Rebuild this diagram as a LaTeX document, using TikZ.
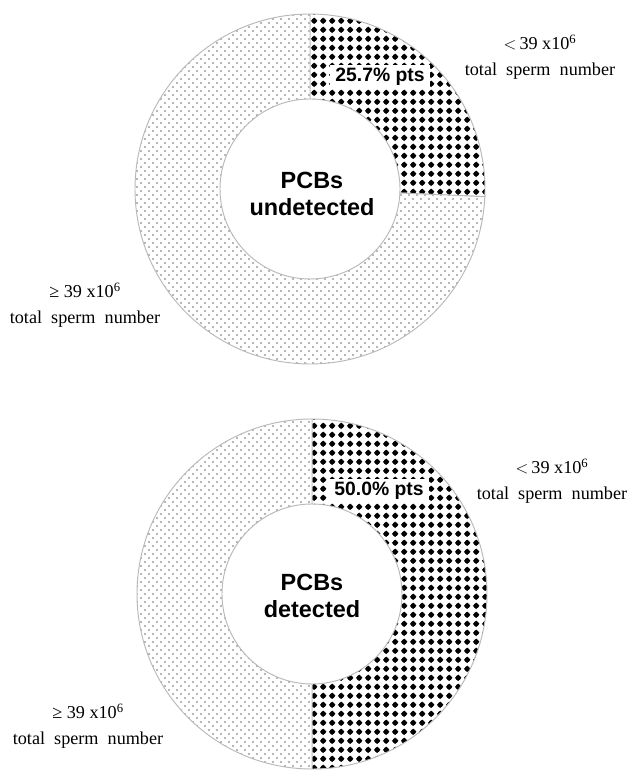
\documentclass[tikz,border=0pt]{standalone}
\usepackage{fontspec}
\setmainfont{Liberation Serif}
\setsansfont{Liberation Sans}
\usetikzlibrary{patterns.meta}

% dark segment: black dots, light segment: grey dots
\tikzdeclarepattern{
  name=darkdots, type=colored,
  bottom left={(0pt,0pt)}, top right={(7.8pt,7.8pt)}, tile size={(7.8pt,7.8pt)},
  code={\fill[white] (0pt,0pt) rectangle (7.8pt,7.8pt);
        \fill[black] (3.9pt,0.9pt) -- (6.9pt,3.9pt) -- (3.9pt,6.9pt) -- (0.9pt,3.9pt) -- cycle;
        \fill[black] (3.9pt,3.9pt) circle (2.4pt);}
}
\tikzdeclarepattern{
  name=greydots, type=colored,
  bottom left={(0pt,0pt)}, top right={(6.8pt,6.8pt)}, tile size={(6.8pt,6.8pt)},
  code={\fill[white] (0pt,0pt) rectangle (6.8pt,6.8pt);
        \fill[gray!75] (1.7pt,1.7pt) circle (0.95pt);
        \fill[gray!75] (5.1pt,5.1pt) circle (0.95pt);}
}

\newcommand{\widewords}{\spaceskip=0.5em\relax}

\tikzset{
  ring edge/.style={draw=gray!55, line width=0.8pt},
  share/.style={font=\fontsize{15.5}{22}\selectfont, align=center},
  inner label/.style={font=\fontsize{20}{23}\selectfont\sffamily\bfseries, align=center},
  pct/.style={fill=white, font=\fontsize{16.5}{18}\selectfont\sffamily\bfseries, inner xsep=5pt, inner ysep=3pt}
}

% ring piece: center, start angle, end angle, pattern
\newcommand{\ringpart}[4]{%
  \path[ring edge, pattern=#4] ([shift={(#2:175)}]#1) arc[start angle=#2, end angle=#3, radius=175]
    -- ([shift={(#3:90)}]#1) arc[start angle=#3, end angle=#2, radius=90] -- cycle;}

\begin{document}
\begin{tikzpicture}[x=0.03cm, y=0.03cm]
	%\draw[help lines] (0,0) grid[step=50] (629,771);
	\useasboundingbox (0,0) rectangle (629,771);
	\coordinate (top) at (310,582);
	\coordinate (bot) at (312,177);

	% upper ring
	\ringpart{top}{90}{-2.52}{darkdots}
	\ringpart{top}{-2.52}{-270}{greydots}
	\node[inner label] (undet) at (312,577) {PCBs\\undetected};
	\node[pct] (pctup) at (380,694) {25.7\% pts};
	\node[share] (lowup) at (540,714) {$<$\,39 x10\textsuperscript{6}\\\widewords total sperm number};
	\node[share] (highup) at (85,466) {≥ 39 x10\textsuperscript{6}\\\widewords total sperm number};

	% lower ring
	\ringpart{bot}{90}{-90}{darkdots}
	\ringpart{bot}{-90}{-270}{greydots}
	\node[inner label] (det) at (312,175) {PCBs\\detected};
	\node[pct] (pctdown) at (379,280) {50.0\% pts};
	\node[share] (lowdown) at (552,290) {$<$\,39 x10\textsuperscript{6}\\\widewords total sperm number};
	\node[share] (highdown) at (88,45) {≥ 39 x10\textsuperscript{6}\\\widewords total sperm number};
\end{tikzpicture}
\end{document}
